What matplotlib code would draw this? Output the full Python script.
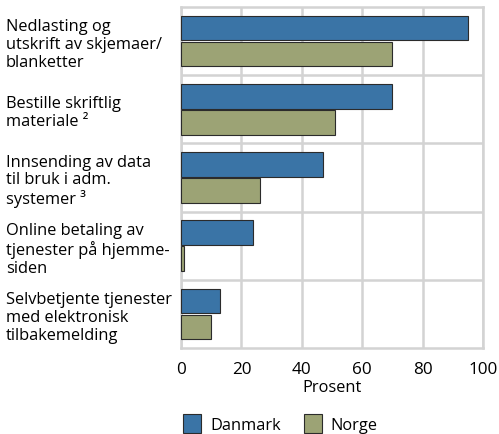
import matplotlib.pyplot as plt
from matplotlib.patches import Patch
import numpy as np

# === Data ===
categories = [
    "Nedlasting og\nutskrift av skjemaer/\nblanketter",
    "Bestille skriftlig\nmateriale ²",
    "Innsending av data\ntil bruk i adm.\nsystemer ³",
    "Online betaling av\ntjenester på hjemme-\nsiden",
    "Selvbetjente tjenester\nmed elektronisk\ntilbakemelding",
]
danmark = [95, 70, 47, 24, 13]
norge = [70, 51, 26, 1, 10]
series_names = ["Danmark", "Norge"]

# === Style ===
BLUE = "#3a74a6"
OLIVE = "#9ca375"
EDGE = "#2b2b2b"
GRID = "#d3d3d3"
FONT = "Open Sans"
FS = 11.8

plt.rcParams["font.family"] = [FONT, "DejaVu Sans"]

fig = plt.figure(figsize=(4.99, 4.35), dpi=100)
ax = fig.add_axes([0.3627, 0.1977, 0.6053, 0.7839])

y = np.arange(len(categories))
h = 0.36
ax.barh(y - 0.19, danmark, height=h, color=BLUE, edgecolor=EDGE, linewidth=0.8, zorder=3)
ax.barh(y + 0.19, norge, height=h, color=OLIVE, edgecolor=EDGE, linewidth=0.8, zorder=3)

ax.set_xlim(0, 100)
ax.set_ylim(len(categories) - 0.5, -0.5)
ax.set_xticks([0, 20, 40, 60, 80, 100])
ax.set_yticks([])
ax.set_yticks(np.arange(len(categories) - 1) + 0.5, minor=True)
ax.grid(True, which="major", axis="x", color=GRID, linewidth=1.8, zorder=0)
ax.grid(True, which="minor", axis="y", color=GRID, linewidth=1.8, zorder=0)
ax.tick_params(axis="both", which="both", length=0)
ax.tick_params(axis="x", labelsize=FS + 0.5, pad=9)
for s in ax.spines.values():
    s.set_color(GRID)
    s.set_linewidth(1.8)

ax.set_xlabel("Prosent", fontsize=FS, labelpad=2)

# category labels, left aligned at figure edge
for i, lab in enumerate(categories):
    yy = ax.transData.transform((0, i))[1] - 3
    fy = fig.transFigure.inverted().transform((0, yy))[1]
    fig.text(0.012, fy, lab, ha="left", va="center", fontsize=FS,
             linespacing=1.14)

handles = [Patch(facecolor=BLUE, edgecolor=EDGE, linewidth=0.8),
           Patch(facecolor=OLIVE, edgecolor=EDGE, linewidth=0.8)]
fig.legend(handles, series_names, loc="center", bbox_to_anchor=(0.562, 0.025),
           ncol=2, frameon=False, fontsize=FS, handlelength=1.1, handleheight=1.4,
           columnspacing=1.4, handletextpad=0.55)

fig.savefig("out.png", dpi=100)
